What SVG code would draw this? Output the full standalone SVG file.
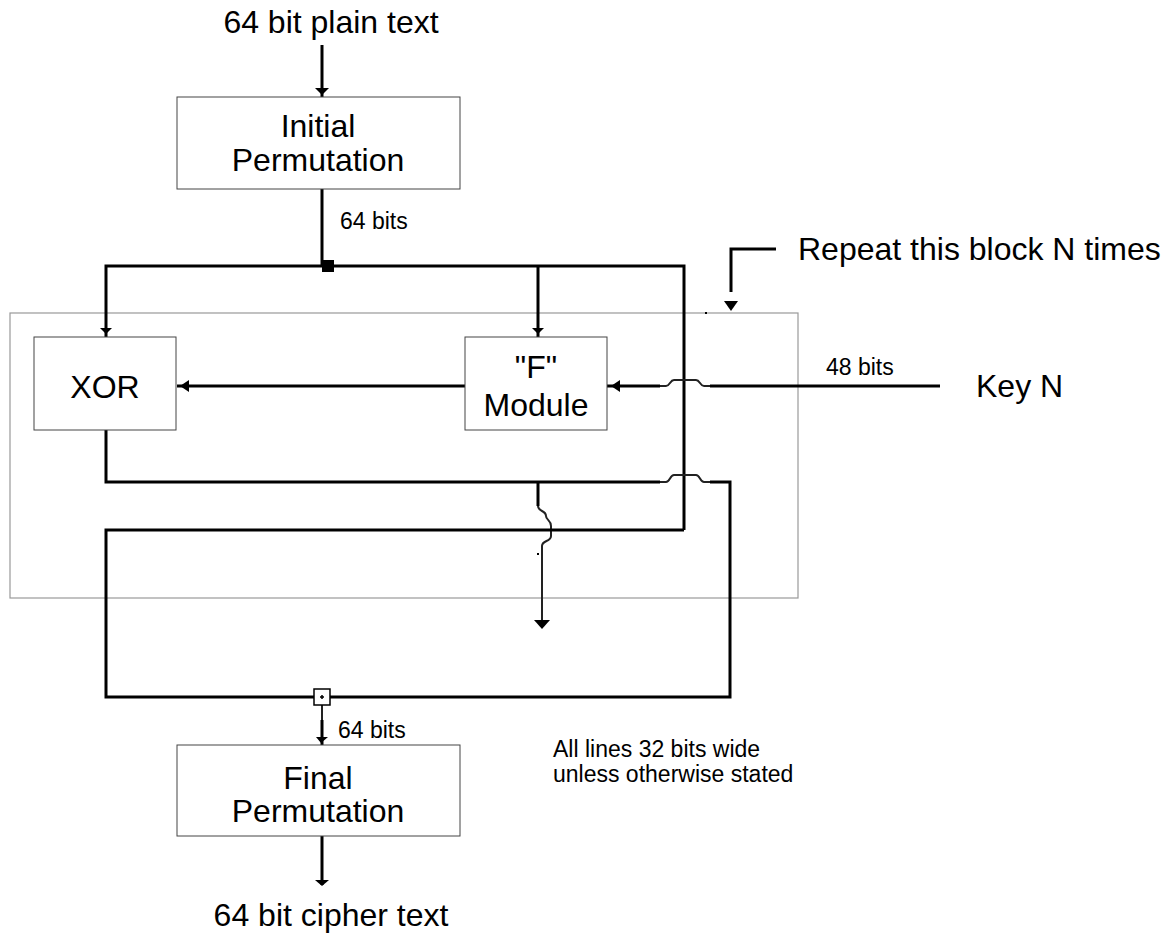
<svg xmlns="http://www.w3.org/2000/svg" width="1173" height="934" viewBox="0 0 1173 934">
<style>
text{font-family:"Liberation Sans",Arial,sans-serif;fill:#000}
.big{font-size:32px}
.small{font-size:23px}
.box{fill:#fff;stroke:#444;stroke-width:1}
.w{fill:none;stroke:#000;stroke-width:3}
.j{fill:none;stroke:#222;stroke-width:2}
.ah{fill:#000}
</style>
<rect width="1173" height="934" fill="#fff"/>
<g id="frame"><rect x="10" y="313" width="788" height="285" fill="none" stroke="#999" stroke-width="1.2"/></g>
<g id="connectors">
<path class="w" d="M322 45V97"/>
<path class="ah" d="M315 88h14l-7 7z"/>
<path class="w" d="M322 189V266"/>
<path class="w" d="M106 337V266H684V530"/>
<path class="w" d="M538 266V337"/>
<rect x="322" y="260" width="12" height="12" fill="#000"/>
<path class="ah" d="M100 328h12l-6 6z"/>
<path class="ah" d="M532 328h12l-6 6z"/>
<path class="w" d="M465 386H177"/>
<path class="ah" d="M180 386l9-6v12z"/>
<path class="w" d="M940 386H710"/>
<path class="j" d="M710 386H704C700 386 700 380 696 380H674C670 380 670 386 666 386H660"/>
<path class="w" d="M660 386H607"/>
<path class="ah" d="M611 386l9-6v12z"/>
<path class="w" d="M106 430V482H660"/>
<path class="j" d="M660 482H666C670 482 670 475 674 475H696C700 475 700 482 704 482H710"/>
<path class="w" d="M710 482H730V697H330"/>
<path class="w" d="M538 482V506"/>
<path class="j" d="M538 506C538 512 546 510 546 516C546 520 551 520 551 526V536C551 542 542 540 542 546V620"/>
<path class="ah" d="M534 620h16l-8 9z"/>
<rect x="537" y="553" width="2" height="2" fill="#000"/>
<path class="w" d="M684 530H106V697H314"/>
<path class="j" d="M322 705V722"/>
<path class="w" d="M322 720V745"/>
<path class="ah" d="M316 737h12l-7 6z"/>
<path class="w" d="M322 836V885"/>
<path class="ah" d="M315 880h14l-7 6z"/>
<path class="w" d="M776 249H731V292"/>
<path class="ah" d="M724 301h14l-7 10z"/>
<rect x="705" y="312" width="2" height="2" fill="#000"/>
</g>
<g id="plus"><rect x="314" y="689" width="16" height="16" fill="#fff" stroke="#000" stroke-width="1.5"/><path d="M322 695v4M320 697h4" stroke="#000" stroke-width="1.5"/></g>
<g id="initial"><rect class="box" x="177" y="97" width="283" height="92"/><text class="big" x="318" y="137" text-anchor="middle">Initial</text><text class="big" x="318" y="171" text-anchor="middle">Permutation</text></g>
<g id="xor"><rect class="box" x="34" y="337" width="142" height="93"/><text class="big" x="105" y="398" text-anchor="middle">XOR</text></g>
<g id="fmodule"><rect class="box" x="465" y="337" width="142" height="93"/><text class="big" x="536" y="378" text-anchor="middle">"F"</text><text class="big" x="536" y="416" text-anchor="middle">Module</text></g>
<g id="final"><rect class="box" x="177" y="745" width="283" height="91"/><text class="big" x="318" y="789" text-anchor="middle">Final</text><text class="big" x="318" y="822" text-anchor="middle">Permutation</text></g>
<g id="labels">
<text class="big" x="331" y="33" text-anchor="middle">64 bit plain text</text>
<text class="big" x="331" y="926" text-anchor="middle">64 bit cipher text</text>
<text class="small" x="340" y="229">64 bits</text>
<text class="small" x="338" y="738">64 bits</text>
<text class="small" x="826" y="375">48 bits</text>
<text class="big" x="976" y="397">Key N</text>
<text class="big" x="798" y="260">Repeat this block N times</text>
<text class="small" x="553" y="757">All lines 32 bits wide</text>
<text class="small" x="553" y="782">unless otherwise stated</text>
</g>
</svg>
